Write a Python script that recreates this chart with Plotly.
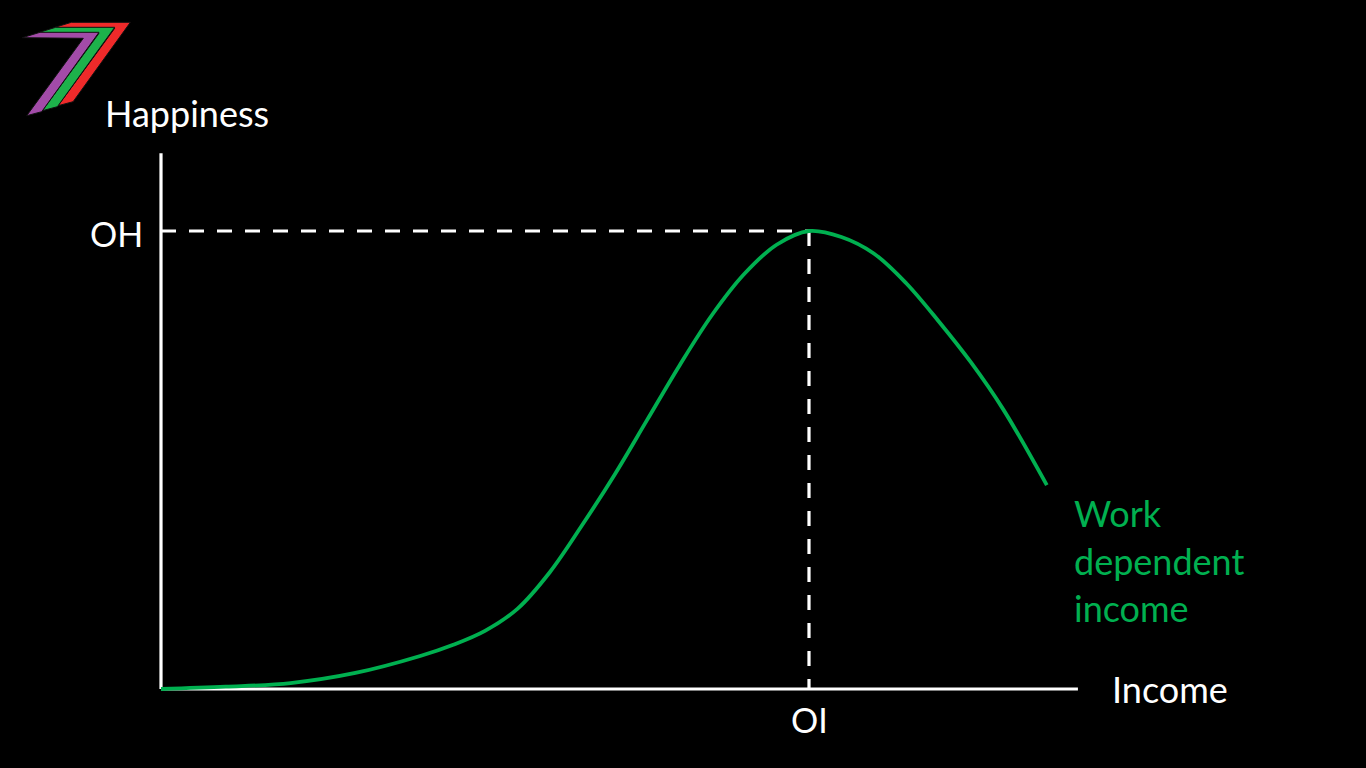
import plotly.graph_objects as go

# ---- data (income units: OI = 100; happiness units: OH = 100) ----
income = [0, 10, 20, 30, 40, 45, 50, 55, 60, 65, 70, 75, 80, 85, 90, 95, 100,
          105, 110, 115, 120, 125, 130, 136.7]
happiness = [0, 0.5, 1.3, 3.5, 7.2, 9.6, 12.7, 17.5, 25.5, 35.8, 46.8, 58.7, 70.6,
             81.6, 90.6, 97.0, 100, 98.7, 95.1, 88.6, 80.3, 71.3, 61.0, 44.5]
optimal_income = 100
optimal_happiness = 100
x_axis_end = 141.5
y_axis_end = 117.0
labels = {"y": "Happiness", "x": "Income", "oh": "OH", "oi": "OI",
          "curve": ["Work", "dependent", "income"]}

# ---- pixel-linear axis mapping (origin at pixel 161, 689) ----
PX_X, PX_Y = 6.48, 4.58
X0, Y0 = 161, 689
W, H = 1366, 768
xr = [(0 - X0) / PX_X, (W - X0) / PX_X]
yr = [(Y0 - H) / PX_Y, (Y0 - 0) / PX_Y]

def dx(px):
    return (px - X0) / PX_X

def dy(py):
    return (Y0 - py) / PX_Y

GREEN = "#00B050"
FONT = "Lato"

fig = go.Figure()

# axes
fig.add_trace(go.Scatter(x=[0, 0], y=[0, y_axis_end], mode="lines",
                         line=dict(color="white", width=3.2), hoverinfo="skip"))
fig.add_trace(go.Scatter(x=[0, x_axis_end], y=[0, 0], mode="lines",
                         line=dict(color="white", width=3.2), hoverinfo="skip"))
# dashed guides
fig.add_trace(go.Scatter(x=[0, optimal_income], y=[optimal_happiness, optimal_happiness],
                         mode="lines", line=dict(color="white", width=3.2, dash="15px,13px"),
                         hoverinfo="skip"))
fig.add_trace(go.Scatter(x=[optimal_income, optimal_income], y=[optimal_happiness, 0],
                         mode="lines", line=dict(color="white", width=3.2, dash="15px,13px"),
                         hoverinfo="skip"))
# curve
fig.add_trace(go.Scatter(x=income, y=happiness, mode="lines",
                         line=dict(color=GREEN, width=3.8, shape="spline", smoothing=1.0),
                         hoverinfo="skip"))

ann = [
    dict(x=dx(187), y=dy(113), text=labels["y"], font=dict(size=36, color="white")),
    dict(x=dx(1170), y=dy(689), text=labels["x"], font=dict(size=36, color="white")),
    dict(x=dx(116), y=dy(233), text=labels["oh"], font=dict(size=34, color="white")),
    dict(x=optimal_income, y=dy(719), text=labels["oi"], font=dict(size=34, color="white")),
]
for i, (t, py) in enumerate(zip(labels["curve"], [513, 561, 608])):
    ann.append(dict(x=dx(1072), y=dy(py), text=t, xanchor="left",
                    font=dict(size=36, color=GREEN)))
for a in ann:
    a.setdefault("xanchor", "center")
    a.update(showarrow=False, yanchor="middle", xref="x", yref="y")
    a["font"]["family"] = FONT

# logo: three offset "7" stripes (pixel coords -> paper)
base = [(22.3, 37.7), (40, 32.3), (99, 32.3), (41.7, 111.7), (26.7, 115.7), (83.3, 38.3)]
shapes = []
for k, col in [(2, "#EE2A2A"), (1, "#1DB24B"), (0, "#A24BA8")]:
    pts = [((x + 15.7 * k) / W, 1 - (y - 5.0 * k) / H) for x, y in base]
    path = "M " + " L ".join(f"{px:.5f},{py:.5f}" for px, py in pts) + " Z"
    shapes.append(dict(type="path", xref="paper", yref="paper", path=path,
                       fillcolor=col, line=dict(color="#111111", width=1), layer="above"))

fig.update_layout(
    width=W, height=H, margin=dict(l=0, r=0, t=0, b=0),
    paper_bgcolor="black", plot_bgcolor="black", showlegend=False,
    xaxis=dict(range=xr, visible=False, fixedrange=True),
    yaxis=dict(range=yr, visible=False, fixedrange=True),
    annotations=ann, shapes=shapes, font=dict(family=FONT),
)

fig.write_html("out.html", config={"displayModeBar": False},
               post_script="document.body.style.margin='0';document.body.style.overflow='hidden';")
